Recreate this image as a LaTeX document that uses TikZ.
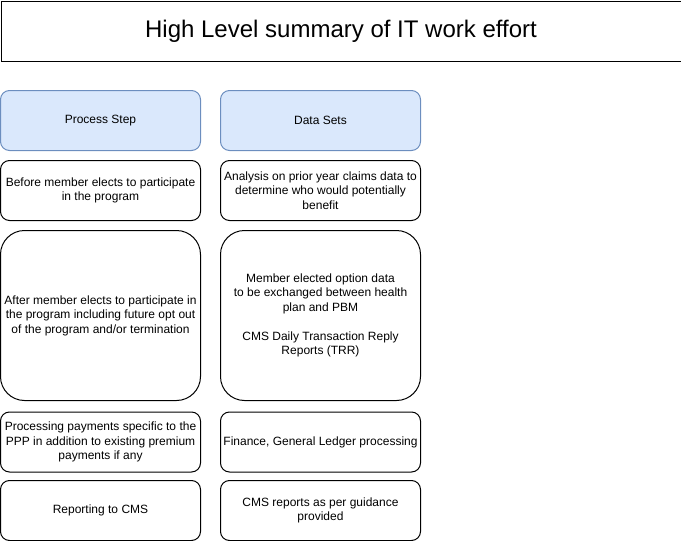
\documentclass[tikz,border=0pt]{standalone}
\usepackage{fontspec}
\setmainfont{Liberation Sans}
\definecolor{headfill}{HTML}{DAE8FC}
\definecolor{headdraw}{HTML}{6C8EBF}
\tikzset{
  cell/.style = {draw, line width=1pt, rounded corners=9pt, anchor=north west,
    minimum width=200pt, minimum height=60pt, inner sep=1pt, outer sep=0pt,
    align=center, font=\fontsize{12}{14.5}\selectfont},
  headcell/.style = {cell, draw=headdraw, fill=headfill},
  tallcell/.style = {cell, minimum height=170pt, rounded corners=24pt}
}

\begin{document}
\begin{tikzpicture}[x=1pt,y=-1pt]
  \useasboundingbox (0,0) rectangle (681,541);
  % title
  \node (title) at (0.5,0.5) [draw, line width=1pt, anchor=north west, minimum width=680pt, minimum height=60pt, font=\fontsize{24}{28}\selectfont] {High Level summary of IT work effort};
  % column heads
  \node (stephead) at (0.5,90.5) [headcell] {Process Step};
  \node (datahead) at (220.5,90.5) [headcell] {Data Sets};
  % process steps
  \node (step1) at (0.5,160.5) [cell] {Before member elects to participate\\in the program};
  \node (step2) at (0.5,230.5) [tallcell] {After member elects to participate in\\the program including future opt out\\of the program and/or termination};
  \node (step3) at (0.5,412) [cell] {Processing payments specific to the\\PPP in addition to existing premium\\payments if any};
  \node (step4) at (0.5,480.5) [cell] {Reporting to CMS};
  % data sets
  \node (data1) at (220.5,160.5) [cell] {Analysis on prior year claims data to\\determine who would potentially\\benefit};
  \node (data2) at (220.5,230.5) [tallcell] {Member elected option data\\to be exchanged between health\\plan and PBM\\[14.5pt]CMS Daily Transaction Reply\\Reports (TRR)};
  \node (data3) at (220.5,412) [cell] {Finance, General Ledger processing};
  \node (data4) at (220.5,480.5) [cell] {CMS reports as per guidance\\provided};
\end{tikzpicture}
\end{document}
